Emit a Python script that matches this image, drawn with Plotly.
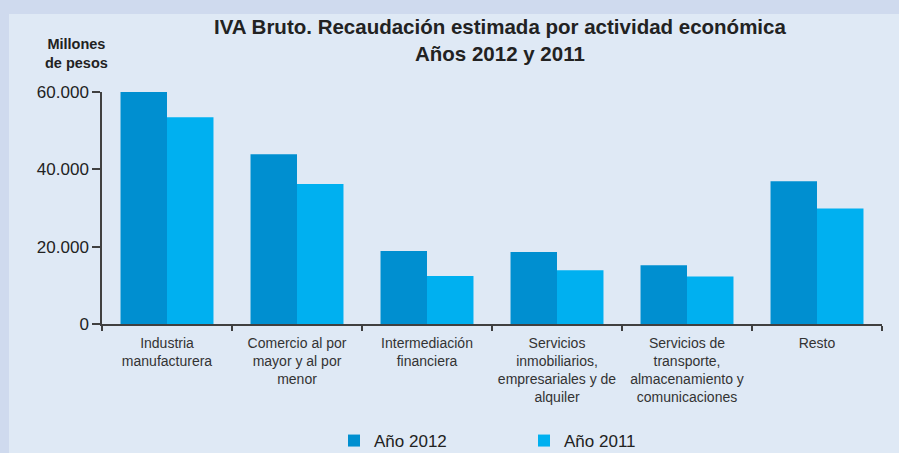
import plotly.graph_objects as go

categories = [
    "Industria<br>manufacturera",
    "Comercio al por<br>mayor y al por<br>menor",
    "Intermediación<br>financiera",
    "Servicios<br>inmobiliarios,<br>empresariales y de<br>alquiler",
    "Servicios de<br>transporte,<br>almacenamiento y<br>comunicaciones",
    "Resto",
]
values_2012 = [60000, 43900, 18900, 18600, 15200, 36900]
values_2011 = [53500, 36200, 12400, 13900, 12300, 29900]
series_names = ["Año 2012", "Año 2011"]
y_ticks = [0, 20000, 40000, 60000]

FONT = "Liberation Sans, Arial, sans-serif"
W, H = 899, 453
L, R, T, B = 102, 17, 92, 129
pw, ph = W - L - R, H - T - B

def px_x(x):
    return (x - L) / pw

def px_y(y):
    return (H - B - y) / ph

fig = go.Figure()
fig.add_trace(go.Bar(x=categories, y=values_2012, name=series_names[0],
                     marker=dict(color="#008fd0", line=dict(width=0))))
fig.add_trace(go.Bar(x=categories, y=values_2011, name=series_names[1],
                     marker=dict(color="#00b0f0", line=dict(width=0))))

fig.update_layout(
    width=W, height=H, autosize=False,
    margin=dict(l=L, r=R, t=T, b=B, pad=0, autoexpand=False),
    paper_bgcolor="#cfdaee",
    plot_bgcolor="rgba(0,0,0,0)",
    barmode="group", bargap=0.285, bargroupgap=0,
    separators=",.",
    font=dict(family=FONT, color="#333333"),
    showlegend=True,
    legend=dict(orientation="h", x=px_x(334), xanchor="left",
                y=px_y(459), yanchor="bottom",
                font=dict(size=17, color="#222222"),
                entrywidth=145, entrywidthmode="pixels",
                borderwidth=0, tracegroupgap=0,
                bgcolor="rgba(0,0,0,0)"),
    shapes=[dict(type="rect", xref="paper", yref="paper", layer="below",
                 x0=px_x(9), x1=px_x(905), y0=px_y(460), y1=px_y(14),
                 fillcolor="#dfe9f5", line=dict(width=0))],
    annotations=[
        dict(text="<b>IVA Bruto. Recaudación estimada por actividad económica<br>Años 2012 y 2011</b>",
             xref="paper", yref="paper", x=px_x(500), y=px_y(13),
             xanchor="center", yanchor="top", showarrow=False,
             font=dict(size=20.5, color="#222222", family=FONT)),
        dict(text="<b>Millones<br>de pesos</b>",
             xref="paper", yref="paper", x=px_x(76), y=px_y(34),
             xanchor="center", yanchor="top", showarrow=False,
             font=dict(size=14.5, color="#222222", family=FONT)),
    ],
)
fig.update_yaxes(range=[0, 60000], tickvals=y_ticks, tickformat=",d",
                 showgrid=False, zeroline=False,
                 showline=True, linecolor="#404040", linewidth=1.5,
                 ticks="outside", ticklen=8, tickcolor="#404040", tickwidth=1.5,
                 tickfont=dict(size=17, color="#222222"))
fig.update_xaxes(showgrid=False, showline=True, linecolor="#404040", linewidth=1.5,
                 ticks="outside", tickson="boundaries", ticklen=5,
                 tickcolor="#404040", tickwidth=1.5, ticklabelstandoff=5,
                 tickfont=dict(size=14, color="#333333"), tickangle=0)

fig.write_html("out.html", config={"responsive": False, "displayModeBar": False},
               post_script="document.body.style.margin='0';")
